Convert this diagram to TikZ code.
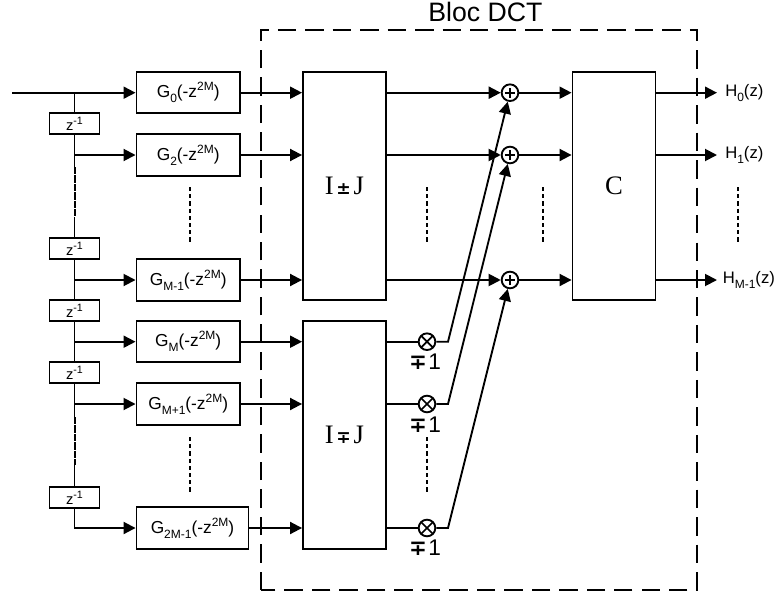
\documentclass[tikz,border=0pt]{standalone}
\usepackage{fontspec}
\setmainfont{Liberation Sans}
\newfontfamily\serifface{Liberation Serif}
\newfontfamily\signface{DejaVu Sans}
\usetikzlibrary{arrows.meta}
\newcommand{\lowtxt}[1]{\raisebox{-0.3em}{\fontsize{9}{9}\selectfont #1}}
\newcommand{\hightxt}[1]{\raisebox{0.4em}{\fontsize{9}{9}\selectfont #1}}
\newcommand{\zinv}{z\raisebox{0.42em}{\fontsize{8}{8}\selectfont -1}}
\newcommand{\gtf}[1]{G\lowtxt{#1}(-z\hightxt{2M})}
\newcommand{\tinysign}[2]{\raisebox{#2}{\signface\bfseries\fontsize{#1}{#1}\selectfont ∓}}
\newcommand{\tinyplus}[2]{\raisebox{#2}{\signface\bfseries\fontsize{#1}{#1}\selectfont ±}}
\tikzset{
  x=0.75pt,y=-0.75pt,
  conn/.style={line width=1.4pt},
  arr/.style={conn,-{Triangle[length=9pt,width=9pt]}},
  filt/.style={draw,line width=1.4pt,minimum height=31pt,inner sep=0pt,font=\fontsize{13}{15}\selectfont},
  delay/.style={draw,line width=1.4pt,minimum width=37.5pt,minimum height=15.75pt,inner sep=0pt,font=\fontsize{11}{12}\selectfont},
  bigbox/.style={draw,line width=1.4pt,minimum height=171pt,minimum width=62.25pt,inner sep=0pt,font=\serifface\fontsize{20}{22}\selectfont},
  opcirc/.style={draw,circle,line width=1.4pt,minimum size=12.5pt,inner sep=0pt},
  plusc/.style={opcirc,path picture={\draw[line width=1.3pt] ([xshift=-3.8pt]path picture bounding box.center)--([xshift=3.8pt]path picture bounding box.center);\draw[line width=1.3pt] ([yshift=-3.8pt]path picture bounding box.center)--([yshift=3.8pt]path picture bounding box.center);}},
  timesc/.style={opcirc,path picture={\draw[line width=1.3pt] ([shift={(-5pt,-5pt)}]path picture bounding box.center)--([shift={(5pt,5pt)}]path picture bounding box.center);\draw[line width=1.3pt] ([shift={(5pt,-5pt)}]path picture bounding box.center)--([shift={(-5pt,5pt)}]path picture bounding box.center);}},
  dots/.style={line width=1.5pt,dash pattern=on 3.2pt off 2.2pt},
  chainl/.style={line width=1.5pt,dash pattern=on 5.5pt off 0.8pt},
  framel/.style={line width=1.4pt,dash pattern=on 13.8pt off 6.8pt},
  lab/.style={inner sep=0pt,anchor=west,font=\fontsize{12.5}{14}\selectfont},
  sgn/.style={inner sep=0pt,font=\fontsize{17}{18}\selectfont},
}
\begin{document}
\begin{tikzpicture}
\useasboundingbox (0,0) rectangle (774,596);
\draw[framel] (261,590) -- (261,30) -- (697,30) -- (697,590) -- cycle;
\node[inner sep=0pt,font=\fontsize{20}{22}\selectfont] (title) at (485.5,12) {Bloc DCT};
% filters
\node[filt,minimum width=77.6pt] (g0) at (188.2,92.7) {\gtf{0}};
\node[filt,minimum width=77.6pt] (g2) at (188.2,155) {\gtf{2}};
\node[filt,minimum width=77.6pt] (gm1) at (188.2,280) {\gtf{M-1}};
\node[filt,minimum width=77.6pt] (gm) at (188.2,341.7) {\gtf{M}};
\node[filt,minimum width=77.6pt] (gp1) at (188.2,404) {\gtf{M+1}};
\node[filt,minimum width=84pt] (g2m) at (192.5,528) {\gtf{2M-1}};
% delays
\node[delay] (z1) at (74.5,123.5) {\zinv};
\node[delay] (z2) at (74.5,248.5) {\zinv};
\node[delay] (z3) at (74.5,310.5) {\zinv};
\node[delay] (z4) at (74.5,372.5) {\zinv};
\node[delay] (z5) at (74.5,497.5) {\zinv};
% big blocks
\node[bigbox] (ipj) at (344.5,186) {I\kern2pt\tinyplus{13}{0.02em}\kern2pt J};
\node[bigbox] (imj) at (344.5,435) {I\kern2pt\tinysign{13}{0.02em}\kern2pt J};
\node[bigbox] (cb) at (614,186) {C};
% operators
\node[plusc] (p1) at (510,92.7) {};
\node[plusc] (p2) at (510,155) {};
\node[plusc] (p3) at (510,280) {};
\node[timesc] (m1) at (427,341.7) {};
\node[timesc] (m2) at (427,404) {};
\node[timesc] (m3) at (427,528) {};
\node[sgn] (s1) at (425,362) {\tinysign{16}{0em}\kern1pt 1};
\node[sgn] (s2) at (425,424.5) {\tinysign{16}{0em}\kern1pt 1};
\node[sgn] (s3) at (425,548) {\tinysign{16}{0em}\kern1pt 1};
% free points
\coordinate (in) at (12,92.7);
\coordinate (j0) at (74.5,92.7);
\coordinate (j2) at (74.5,155);
\coordinate (ja) at (74.8,167);
\coordinate (jb) at (74.8,217);
\coordinate (jm1) at (74.5,280);
\coordinate (jm) at (74.5,341.7);
\coordinate (jp1) at (74.5,404);
\coordinate (jc) at (74.8,417);
\coordinate (jd) at (74.8,465);
\coordinate (k1) at (448,341.7);
\coordinate (k2) at (448,404);
\coordinate (k3) at (448,528);
\coordinate (o1) at (717,92.7);
\coordinate (o2) at (717,155);
\coordinate (o3) at (717,280);
% input chain
\draw[arr] (in) -- (g0.west);
\draw[conn] (j0) -- (z1.north);
\draw[conn] (z1.south) -- (z1.south |- ja);
\draw[chainl] (ja) -- (jb);
\draw[conn] (z2.north |- jb) -- (z2.north);
\draw[conn] (z2.south) -- (z3.north);
\draw[conn] (z3.south) -- (z4.north);
\draw[conn] (z4.south) -- (z4.south |- jc);
\draw[chainl] (jc) -- (jd);
\draw[conn] (z5.north |- jd) -- (z5.north);
\draw[arr] (j2) -- (g2.west);
\draw[arr] (jm1) -- (gm1.west);
\draw[arr] (jm) -- (gm.west);
\draw[arr] (jp1) -- (gp1.west);
\draw[arr] (z5.south) |- (g2m.west);
% filters to blocks
\draw[arr] (g0.east) -- (g0.east -| ipj.west);
\draw[arr] (g2.east) -- (g2.east -| ipj.west);
\draw[arr] (gm1.east) -- (gm1.east -| ipj.west);
\draw[arr] (gm.east) -- (gm.east -| imj.west);
\draw[arr] (gp1.east) -- (gp1.east -| imj.west);
\draw[arr] (g2m.east) -- (g2m.east -| imj.west);
% block to adders
\draw[arr] (p1.west -| ipj.east) -- (p1.west);
\draw[arr] (p2.west -| ipj.east) -- (p2.west);
\draw[arr] (p3.west -| ipj.east) -- (p3.west);
\draw[conn] (m1.west -| imj.east) -- (m1.west);
\draw[conn] (m2.west -| imj.east) -- (m2.west);
\draw[conn] (m3.west -| imj.east) -- (m3.west);
\draw[arr] (m1.east) -- (k1) -- (p1);
\draw[arr] (m2.east) -- (k2) -- (p2);
\draw[arr] (m3.east) -- (k3) -- (p3);
\draw[arr] (p1.east) -- (p1.east -| cb.west);
\draw[arr] (p2.east) -- (p2.east -| cb.west);
\draw[arr] (p3.east) -- (p3.east -| cb.west);
% outputs
\draw[arr] (o1 -| cb.east) -- (o1);
\draw[arr] (o2 -| cb.east) -- (o2);
\draw[arr] (o3 -| cb.east) -- (o3);
\node[lab] (h0) at (725,92.7) {H\lowtxt{0}(z)};
\node[lab] (h1) at (725,155) {H\lowtxt{1}(z)};
\node[lab] (hm) at (722.5,280) {H\lowtxt{M-1}(z)};
% ellipses
\coordinate (d1a) at (190,187); \coordinate (d1b) at (190,243);
\coordinate (d2a) at (190,437); \coordinate (d2b) at (190,493);
\coordinate (d3a) at (427,187); \coordinate (d3b) at (427,243);
\coordinate (d4a) at (427,437); \coordinate (d4b) at (427,493);
\coordinate (d5a) at (543,187); \coordinate (d5b) at (543,243);
\coordinate (d6a) at (738,187); \coordinate (d6b) at (738,243);
\draw[dots] (d1a) -- (d1b);
\draw[dots] (d2a) -- (d2b);
\draw[dots] (d3a) -- (d3b);
\draw[dots] (d4a) -- (d4b);
\draw[dots] (d5a) -- (d5b);
\draw[dots] (d6a) -- (d6b);
\end{tikzpicture}
\end{document}
